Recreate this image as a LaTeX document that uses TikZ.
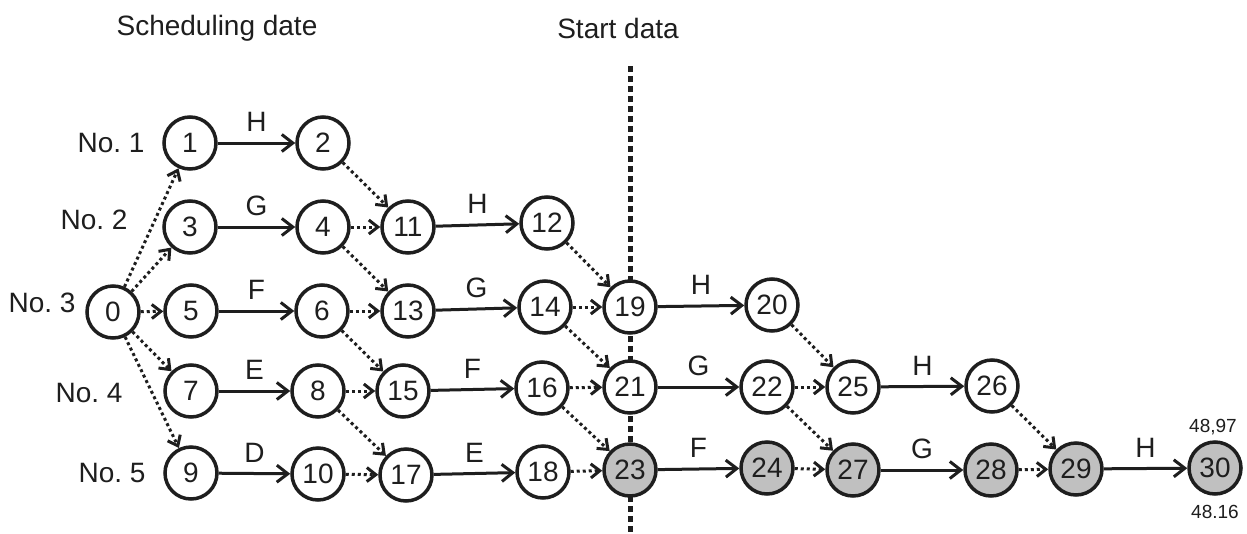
\documentclass[tikz,border=0pt]{standalone}
\usepackage{fontspec}
\setmainfont{Liberation Sans}
\usetikzlibrary{arrows.meta}
\definecolor{shade}{RGB}{192,192,192}
\definecolor{ink}{RGB}{30,30,30}
\begin{document}
\begin{tikzpicture}[x=1pt,y=-1pt,
  ev/.style={circle, draw=ink, line width=3.5pt, fill=white, minimum size=52pt,
    inner sep=0pt, text=ink, font=\fontsize{28}{28}\selectfont},
  crit/.style={ev, fill=shade},
  txt/.style={font=\fontsize{28}{28}\selectfont, text=ink, inner sep=0pt},
  small/.style={font=\fontsize{19}{19}\selectfont, text=ink, inner sep=0pt},
  act/.style={draw=ink, line width=3pt, -{Straight Barb[length=11pt,width=17pt]}},
  dummy/.style={draw=ink, line width=3pt, dash pattern=on 3pt off 3pt,
    -{Straight Barb[length=9pt,width=14pt]}},
  lbl/.style={txt, midway, yshift=21pt},
  startline/.style={draw=ink, line width=5pt, dash pattern=on 6pt off 4pt},
]
\useasboundingbox (0,0) rectangle (1247,533);
\fill[white] (0,0) rectangle (1247,533);

% headings
\node[txt] (hsched) at (217,28) {Scheduling date};
\node[txt] (hstart) at (618,28) {Start data};

% start-data line
\coordinate (ltop) at (630,66);
\coordinate (lbot) at (630,533);
\draw[startline] (ltop) -- (lbot);

% row labels
\node[txt] (r1) at (111,143) {No.\ 1};
\node[txt] (r2) at (94,220) {No.\ 2};
\node[txt] (r3) at (42,303) {No.\ 3};
\node[txt] (r4) at (89,393) {No.\ 4};
\node[txt] (r5) at (112,473) {No.\ 5};

% events
\node[ev] (n0) at (113,312) {0};
\node[ev] (n1) at (190,143) {1};
\node[ev] (n2) at (323,143) {2};
\node[ev] (n3) at (190,227) {3};
\node[ev] (n4) at (323,227) {4};
\node[ev] (n11) at (408,227) {11};
\node[ev] (n12) at (547,223) {12};
\node[ev] (n5) at (191,311) {5};
\node[ev] (n6) at (322,311) {6};
\node[ev] (n13) at (408,311) {13};
\node[ev] (n14) at (545,307) {14};
\node[ev] (n19) at (630,307) {19};
\node[ev] (n20) at (772,305) {20};
\node[ev] (n7) at (191,391) {7};
\node[ev] (n8) at (318,391) {8};
\node[ev] (n15) at (403,391) {15};
\node[ev] (n16) at (542,388) {16};
\node[ev] (n21) at (630,387) {21};
\node[ev] (n22) at (767,387) {22};
\node[ev] (n25) at (853,387) {25};
\node[ev] (n26) at (992,386) {26};
\node[ev] (n9) at (191,473) {9};
\node[ev] (n10) at (318,474) {10};
\node[ev] (n17) at (406,475) {17};
\node[ev] (n18) at (543,472) {18};
\node[crit] (n23) at (630,470) {23};
\node[crit] (n24) at (767,468) {24};
\node[crit] (n27) at (853,470) {27};
\node[crit] (n28) at (991,470) {28};
\node[crit] (n29) at (1076,469) {29};
\node[crit] (n30) at (1215,468) {30};

% times at the last event
\node[small] (tup) at (1213,427) {48,97};
\node[small] (tdn) at (1215,512) {48.16};

% activities
\draw[act] (n1) -- node[lbl] {H} (n2);
\draw[act] (n3) -- node[lbl] {G} (n4);
\draw[act] (n5) -- node[lbl] {F} (n6);
\draw[act] (n7) -- node[lbl] {E} (n8);
\draw[act] (n9) -- node[lbl] {D} (n10);
\draw[act] (n11) -- node[lbl] {H} (n12);
\draw[act] (n13) -- node[lbl] {G} (n14);
\draw[act] (n15) -- node[lbl] {F} (n16);
\draw[act] (n17) -- node[lbl] {E} (n18);
\draw[act] (n19) -- node[lbl] {H} (n20);
\draw[act] (n21) -- node[lbl] {G} (n22);
\draw[act] (n23) -- node[lbl] {F} (n24);
\draw[act] (n25) -- node[lbl] {H} (n26);
\draw[act] (n27) -- node[lbl] {G} (n28);
\draw[act] (n29) -- node[lbl] {H} (n30);

% dummy dependencies
\foreach \a/\b in {n0/n1, n0/n3, n0/n5, n0/n7, n0/n9,
                   n2/n11, n4/n11, n4/n13, n6/n13, n6/n15, n8/n15, n8/n17, n10/n17,
                   n12/n19, n14/n19, n14/n21, n16/n21, n16/n23, n18/n23,
                   n20/n25, n22/n25, n22/n27, n24/n27,
                   n26/n29, n28/n29}
  \draw[dummy] (\a) -- (\b);
\end{tikzpicture}
\end{document}
